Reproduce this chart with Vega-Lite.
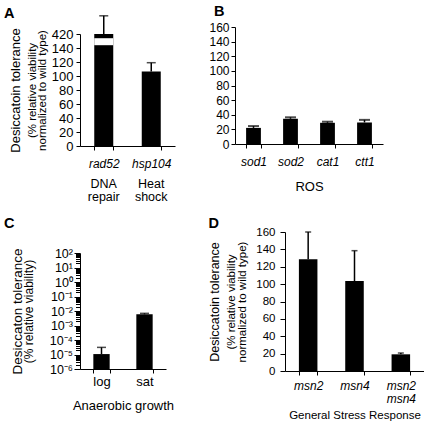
{
  "$schema": "https://vega.github.io/schema/vega-lite/v6.json",
  "padding": {"left": 4, "top": 3, "right": 0, "bottom": 0},
  "config": {
    "font": "Liberation Sans",
    "view": {"stroke": null},
    "axis": {"grid": false, "domainColor": "black", "tickColor": "black", "labelColor": "black", "titleColor": "black", "titleFontWeight": "normal", "domainWidth": 1, "tickWidth": 1, "tickSize": 4, "labelFontSize": 12, "titleFontSize": 13},
    "title": {"color": "black", "fontWeight": "bold", "fontSize": 14.5, "anchor": "start", "frame": "group"}
  },
  "datasets": {
    "A": [{"gene": "rad52", "value": 160, "err": 186}, {"gene": "hsp104", "value": 106.5, "err": 119}],
    "A_break": [{"gene": "rad52", "low": 144, "high": 154}],
    "B": [{"gene": "sod1", "value": 22, "err": 24.5}, {"gene": "sod2", "value": 34.5, "err": 36.5}, {"gene": "cat1", "value": 29, "err": 30.5}, {"gene": "ctt1", "value": 29.5, "err": 33}],
    "C": [{"phase": "log", "value": 1.07e-5, "err": 3.1e-5}, {"phase": "sat", "value": 5.9e-3, "err": 6.9e-3}],
    "D": [{"gene": "msn2", "value": 128.5, "err": 160}, {"gene": "msn4", "value": 103.6, "err": 138.5}, {"gene": "msn2 msn4", "value": 19.2, "err": 20.7}]
  },
  "columns": 2,
  "align": "none",
  "bounds": "full",
  "spacing": {"row": 12, "column": 33},
  "concat": [
    {
      "title": {"text": "A", "dx": -76, "offset": -6},
      "width": 95, "height": 119,
      "layer": [
        {"data": {"name": "A"}, "mark": {"type": "bar", "color": "black"},
         "encoding": {
           "x": {"field": "gene", "type": "nominal", "sort": null, "scale": {"paddingInner": 0.6, "paddingOuter": 0.3},
                 "axis": {"title": null, "labelAngle": 0, "labelFontStyle": "italic", "labelFontSize": 12, "tickBand": "extent", "labelPadding": 8}},
           "y": {"field": "value", "type": "quantitative", "scale": {"domain": [0, 160], "range": [119, 7]},
                 "axis": {"values": [0, 20, 40, 60, 80, 100, 120, 140, 160], "labelExpr": "datum.value == 160 ? '420' : datum.label", "labelPadding": 3, "labelFontSize": 13, "title": ["(% relative viability", "normalized to wild type)"], "titleFontSize": 11.5, "titleLineHeight": 10, "titlePadding": 4}}
         }},
        {"data": {"name": "A"}, "mark": {"type": "rule", "color": "black", "strokeWidth": 1.5},
         "encoding": {
           "x": {"field": "gene", "type": "nominal", "sort": null,
                 "axis": {"orient": "bottom", "title": null, "domain": false, "ticks": false, "labelAngle": 0, "labelPadding": 31, "labelFontSize": 12.5, "labelLineHeight": 13, "labelExpr": "datum.value == 'rad52' ? ['DNA', 'repair'] : ['Heat', 'shock']"}},
           "y": {"field": "value", "type": "quantitative",
                 "axis": {"orient": "left", "domain": false, "ticks": false, "labels": false, "title": "Desiccatoin tolerance", "titleFontSize": 13, "titlePadding": 58}},
           "y2": {"field": "err"}
         }},
        {"data": {"name": "A"}, "mark": {"type": "tick", "color": "black", "size": 9, "thickness": 1.5},
         "encoding": {
           "x": {"field": "gene", "type": "nominal", "sort": null, "axis": null},
           "y": {"field": "err", "type": "quantitative", "axis": null}
         }},
        {"data": {"name": "A_break"}, "mark": {"type": "bar", "color": "white"},
         "encoding": {
           "x": {"field": "gene", "type": "nominal", "sort": null, "axis": null},
           "y": {"field": "low", "type": "quantitative", "axis": null},
           "y2": {"field": "high"}
         }}
      ],
      "resolve": {"axis": {"x": "independent", "y": "independent"}}
    },
    {
      "title": {"text": "B", "dx": -21, "offset": 2},
      "width": 148, "height": 117,
      "data": {"name": "B"},
      "encoding": {
        "x": {"field": "gene", "type": "nominal", "sort": null, "scale": {"paddingInner": 0.6, "paddingOuter": 0.3},
              "axis": {"title": "ROS", "titleFontSize": 13, "titlePadding": 13, "labelAngle": 0, "labelFontStyle": "italic", "labelFontSize": 12, "tickBand": "extent", "labelPadding": 8}}
      },
      "layer": [
        {"mark": {"type": "bar", "color": "black"},
         "encoding": {"y": {"field": "value", "type": "quantitative", "scale": {"domain": [0, 160]},
                            "axis": {"values": [0, 20, 40, 60, 80, 100, 120, 140, 160], "title": null, "labelPadding": 2}}}},
        {"mark": {"type": "rule", "color": "black", "strokeWidth": 1.5},
         "encoding": {"y": {"field": "value", "type": "quantitative", "axis": null}, "y2": {"field": "err"}}},
        {"mark": {"type": "tick", "color": "black", "size": 11, "thickness": 2},
         "encoding": {"y": {"field": "err", "type": "quantitative", "axis": null}}}
      ],
      "resolve": {"axis": {"y": "independent"}}
    },
    {
      "title": {"text": "C", "dx": -76, "offset": 16},
      "width": 86, "height": 116,
      "data": {"name": "C"},
      "encoding": {
        "x": {"field": "phase", "type": "nominal", "sort": null, "scale": {"paddingInner": 0.62, "paddingOuter": 0.31},
              "axis": {"title": "Anaerobic growth", "titleFontSize": 13, "titlePadding": 11, "labelAngle": 0, "labelFontSize": 13, "labelPadding": 2, "tickBand": "extent"}}
      },
      "layer": [
        {"mark": {"type": "bar", "color": "black"},
         "encoding": {"y": {"field": "value", "type": "quantitative", "scale": {"type": "log", "domain": [1e-6, 100]},
           "axis": {
             "values": [1e-6, 2e-6, 3e-6, 4e-6, 5e-6, 6e-6, 7e-6, 8e-6, 9e-6, 1e-5, 2e-5, 3e-5, 4e-5, 5e-5, 6e-5, 7e-5, 8e-5, 9e-5, 1e-4, 2e-4, 3e-4, 4e-4, 5e-4, 6e-4, 7e-4, 8e-4, 9e-4, 0.001, 0.002, 0.003, 0.004, 0.005, 0.006, 0.007, 0.008, 0.009, 0.01, 0.02, 0.03, 0.04, 0.05, 0.06, 0.07, 0.08, 0.09, 0.1, 0.2, 0.3, 0.4, 0.5, 0.6, 0.7, 0.8, 0.9, 1, 2, 3, 4, 5, 6, 7, 8, 9, 10, 20, 30, 40, 50, 60, 70, 80, 90, 100],
             "labelExpr": "abs(log(datum.value)/LN10 - round(log(datum.value)/LN10)) < 0.01 ? '10' + ['⁻⁶','⁻⁵','⁻⁴','⁻³','⁻²','⁻¹','⁰','¹','²'][round(log(datum.value)/LN10) + 6] : ''",
             "tickSize": {"condition": {"test": "abs(log(datum.value)/LN10 - round(log(datum.value)/LN10)) < 0.01", "value": 6}, "value": 4.5},
             "labelOverlap": false, "labelFlush": false, "labelBound": false, "labelPadding": 1.5, "labelFontSize": 12.5,
             "title": "(% relative viability)", "titleFontSize": 12, "titlePadding": 14}},
           "y2": {"datum": 1e-6}}},
        {"mark": {"type": "rule", "color": "black", "strokeWidth": 1.5},
         "encoding": {"y": {"field": "value", "type": "quantitative",
           "axis": {"orient": "left", "domain": false, "ticks": false, "labels": false, "title": "Desiccaton tolerance", "titleFontSize": 13.5, "titlePadding": 55.5}},
           "y2": {"field": "err"}}},
        {"mark": {"type": "tick", "color": "black", "size": 9, "thickness": 1.5},
         "encoding": {"y": {"field": "err", "type": "quantitative", "axis": null}}}
      ],
      "resolve": {"axis": {"y": "independent"}}
    },
    {
      "title": {"text": "D", "dx": -76.5, "offset": -5},
      "width": 139, "height": 139,
      "data": {"name": "D"},
      "encoding": {
        "x": {"field": "gene", "type": "nominal", "sort": null, "scale": {"paddingInner": 0.6, "paddingOuter": 0.3},
              "axis": {"title": "General Stress Response", "titleFontSize": 11.5, "titlePadding": 5, "labelAngle": 0, "labelFontStyle": "italic", "labelFontSize": 12, "labelPadding": 5, "labelLineHeight": 13, "tickBand": "extent", "labelExpr": "split(datum.label, ' ')"}}
      },
      "layer": [
        {"mark": {"type": "bar", "color": "black"},
         "encoding": {"y": {"field": "value", "type": "quantitative", "scale": {"domain": [0, 160]},
           "axis": {"values": [0, 20, 40, 60, 80, 100, 120, 140, 160], "tickSize": 5, "labelPadding": 5, "labelFontSize": 11.5,
                    "title": ["(% relative viability", "normalized to wild type)"], "titleFontSize": 11.5, "titleLineHeight": 11.5, "titlePadding": 8}}}},
        {"mark": {"type": "rule", "color": "black", "strokeWidth": 1.5},
         "encoding": {"y": {"field": "value", "type": "quantitative",
           "axis": {"orient": "left", "domain": false, "ticks": false, "labels": false, "title": "Desiccatoin tolerance", "titleFontSize": 12.5, "titlePadding": 64}},
           "y2": {"field": "err"}}},
        {"mark": {"type": "tick", "color": "black", "size": 6, "thickness": 1.5},
         "encoding": {"y": {"field": "err", "type": "quantitative", "axis": null}}}
      ],
      "resolve": {"axis": {"y": "independent"}}
    }
  ]
}
